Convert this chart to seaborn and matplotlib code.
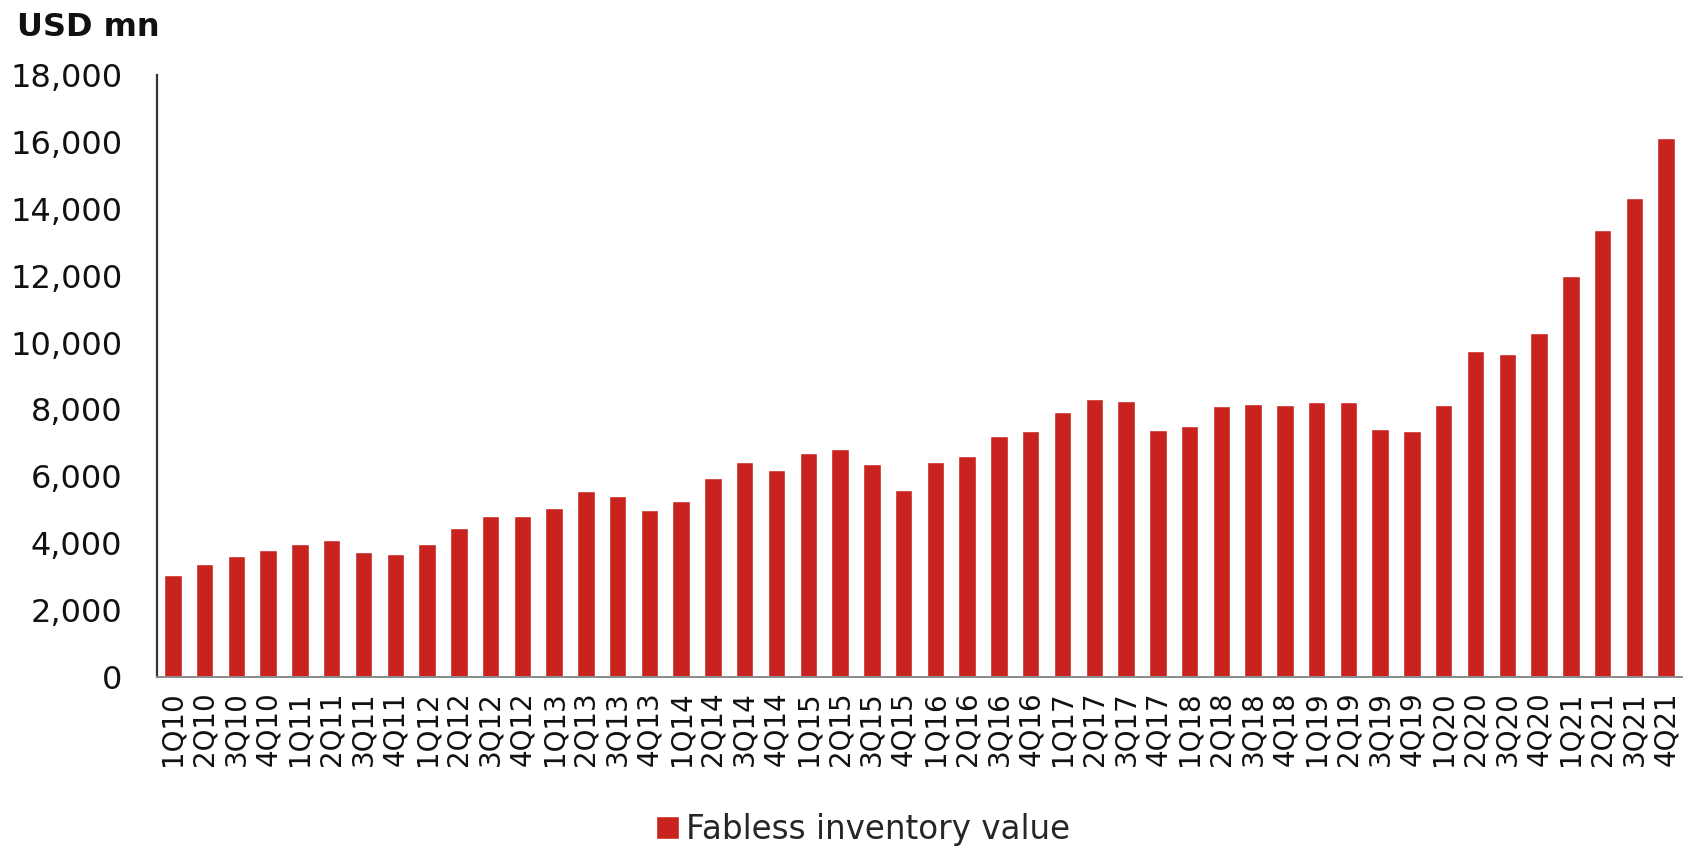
import matplotlib
matplotlib.use("Agg")
import matplotlib.pyplot as plt
import seaborn as sns
import pandas as pd
from matplotlib.ticker import FuncFormatter

quarters = [f"{q}Q{y}" for y in range(10, 22) for q in range(1, 5)]
values = [3050, 3380, 3610, 3790, 3970, 4110, 3740, 3680, 3980, 4470, 4810, 4810,
          5050, 5550, 5420, 4990, 5270, 5960, 6440, 6190, 6700, 6810, 6380, 5590,
          6420, 6610, 7220, 7370, 7930, 8300, 8250, 7400, 7510, 8100, 8170, 8130,
          8210, 8210, 7420, 7370, 8120, 9760, 9670, 10280, 11990, 13360, 14320, 16120]
series_name = "Fabless inventory value"
y_unit = "USD mn"
y_ticks = list(range(0, 18001, 2000))

sns.set_style("white")
plt.rcParams['font.family'] = ['DejaVu Sans']

df = pd.DataFrame({"quarter": quarters, "value": values})

fig = plt.figure(figsize=(16.85, 8.5), dpi=100)
ax = fig.add_axes([157/1685, 173/850, 1525/1685, 602/850])

sns.barplot(data=df, x="quarter", y="value", color="#C9231F", width=0.55,
            saturation=1, ax=ax, order=quarters)

ax.set_xlim(-0.5, len(quarters) - 0.5)
ax.set_ylim(0, 18000)
ax.set_yticks(y_ticks)
ax.yaxis.set_major_formatter(FuncFormatter(lambda v, p: f"{int(v):,}"))
ax.set_xlabel("")
ax.set_ylabel("")
ax.tick_params(axis="y", length=0, pad=25, labelsize=23, labelcolor="#111111")
ax.tick_params(axis="x", length=0, pad=10, labelsize=20, labelrotation=90, labelcolor="#111111")

for s in ["top", "right"]:
    ax.spines[s].set_visible(False)
ax.spines["left"].set_color("#333333")
ax.spines["left"].set_linewidth(1.6)
ax.spines["bottom"].set_color("#8a8a8a")
ax.spines["bottom"].set_linewidth(1.4)
ax.grid(False)

fig.text(0.010, 1 - 12/850, y_unit, fontsize=23, fontweight="bold", va="top", ha="left",
         color="#111111")

fig.legend(handles=[ax.patches[0]], labels=[series_name], loc="center",
           bbox_to_anchor=(0.512, 0.024), frameon=False, fontsize=23.5,
           handlelength=0.72, handleheight=0.72, handletextpad=0.2)

fig.savefig("out.png", dpi=100)
